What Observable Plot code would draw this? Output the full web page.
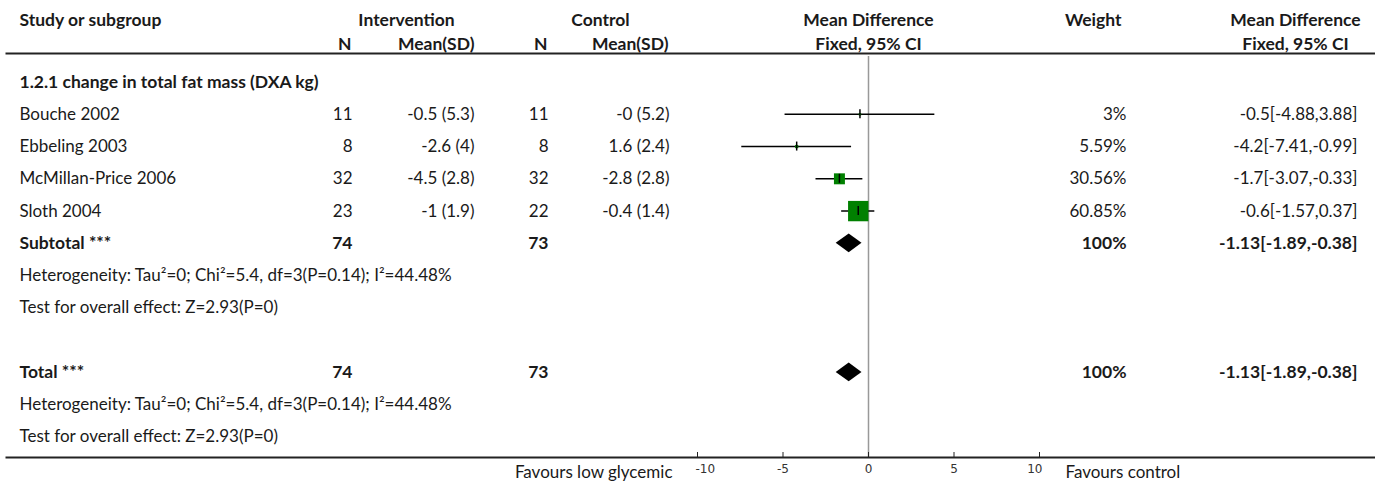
<!DOCTYPE html>
<html><head><meta charset="utf-8">
<script src="https://cdn.jsdelivr.net/npm/d3@7"></script>
<script src="https://cdn.jsdelivr.net/npm/@observablehq/plot@0.6"></script>
<style>body{margin:0;background:#fff} svg{display:block}</style>
</head><body><div id="chart"></div>
<script>
// ---- data ----
const groupTitle = "1.2.1 change in total fat mass (DXA kg)";
const studies = ["Bouche 2002", "Ebbeling 2003", "McMillan-Price 2006", "Sloth 2004"];
const intN = [11, 8, 32, 23];
const intMeanSD = ["-0.5 (5.3)", "-2.6 (4)", "-4.5 (2.8)", "-1 (1.9)"];
const ctlN = [11, 8, 32, 22];
const ctlMeanSD = ["-0 (5.2)", "1.6 (2.4)", "-2.8 (2.8)", "-0.4 (1.4)"];
const md = [-0.5, -4.2, -1.7, -0.6];
const ciLo = [-4.88, -7.41, -3.07, -1.57];
const ciHi = [3.88, -0.99, -0.33, 0.37];
const weights = [3, 5.59, 30.56, 60.85];
const weightLabels = ["3%", "5.59%", "30.56%", "60.85%"];
const pooledMD = -1.13, pooledLo = -1.89, pooledHi = -0.38;
const pooledN1 = 74, pooledN2 = 73;
const hetText = "Heterogeneity: Tau²=0; Chi²=5.4, df=3(P=0.14); I²=44.48%";
const testText = "Test for overall effect: Z=2.93(P=0)";
const axisTicks = [-10, -5, 0, 5, 10];
const leftLabel = "Favours low glycemic", rightLabel = "Favours control";
const headers1 = ["Study or subgroup", "Intervention", "Control", "Mean Difference", "Weight", "Mean Difference"];
const headers2 = ["N", "Mean(SD)", "N", "Mean(SD)", "Fixed, 95% CI", "Fixed, 95% CI"];

// ---- table rows ----
const rows = [];
rows.push({row: 0, label: groupTitle, bold: true});
studies.forEach((s, i) => rows.push({
  row: i + 1, label: s, n1: intN[i], m1: intMeanSD[i], n2: ctlN[i], m2: ctlMeanSD[i],
  w: weightLabels[i], eff: `${md[i]}[${ciLo[i]},${ciHi[i]}]`, bold: false
}));
const pooledEff = `${pooledMD}[${pooledLo},${pooledHi}]`;
rows.push({row: 5, label: "Subtotal ***", n1: pooledN1, n2: pooledN2, w: "100%", eff: pooledEff, bold: true});
rows.push({row: 6, label: hetText, bold: false});
rows.push({row: 7, label: testText, bold: false});
rows.push({row: 9, label: "Total ***", n1: pooledN1, n2: pooledN2, w: "100%", eff: pooledEff, bold: true});
rows.push({row: 10, label: hetText, bold: false});
rows.push({row: 11, label: testText, bold: false});

const studyRows = studies.map((s, i) => ({row: i + 1, md: md[i], lo: ciLo[i], hi: ciHi[i], w: weights[i]}));
const diamondRows = [5, 9];
const H = 0.29; // diamond half height in row units
const diamondPts = diamondRows.flatMap(r => [
  {key: r, y: r - H, x1: pooledMD, x2: pooledMD},
  {key: r, y: r, x1: pooledLo, x2: pooledHi},
  {key: r, y: r + H, x1: pooledMD, x2: pooledMD}
]);

const FONT = "Lato, 'Noto Sans', sans-serif";
const FS = 17, FSB = 17.5;
const L = 6, TOP = 53, BOTTOM = 32, W = 1375, HT = 489;
const INK = "#1a1a1a";

function col(field, dx, anchor) {
  return [false, true].map(b => Plot.text(rows.filter(d => d.bold === b && d[field] != null), {
    x: null, y: "row", frameAnchor: "left", text: field, dx, textAnchor: anchor,
    fontWeight: b ? "bold" : "normal", fontSize: b ? FSB : FS, fill: INK
  }));
}
function head(list, idx, dx, anchor, dy) {
  return Plot.text([list[idx]], {
    x: null, y: null, frameAnchor: "top-left", text: d => d, dx, dy, textAnchor: anchor,
    fontWeight: "bold", fontSize: FSB, fill: INK
  });
}
const innerTicks = axisTicks.slice(1, -1);
const tickFont = {fontFamily: "DejaVu Sans", fontSize: 12, fill: "#333"};

const chart = Plot.plot({
  width: W, height: HT,
  marginTop: TOP, marginBottom: BOTTOM, marginLeft: L, marginRight: 0,
  style: {fontFamily: FONT, fontSize: FS + "px", background: "white", color: INK},
  x: {domain: [-10, 10], range: [697, 1039], axis: null},
  y: {domain: [0, 11], range: [81.5, 436.5], axis: null},
  r: {type: "identity"},
  marks: [
    Plot.ruleX([0], {stroke: "#999", strokeWidth: 1.5, insetTop: 3}),
    Plot.frame({anchor: "top", stroke: "#222", strokeWidth: 2}),
    Plot.frame({anchor: "bottom", stroke: "#222", strokeWidth: 2}),
    Plot.ruleX(axisTicks, {x: d => d, insetTop: (HT - TOP - BOTTOM) - 5, stroke: "#222", strokeWidth: 1}),
    // tick labels
    Plot.text(innerTicks, {x: d => d, y: null, frameAnchor: "bottom", text: d => `${d}`, dy: 15, ...tickFont}),
    Plot.text([axisTicks[0]], {x: d => d, y: null, frameAnchor: "bottom", text: d => `${d}`, dy: 15, dx: -2,
      textAnchor: "start", ...tickFont}),
    Plot.text([axisTicks[axisTicks.length - 1]], {x: d => d, y: null, frameAnchor: "bottom", text: d => `${d}`, dy: 15, dx: 3,
      textAnchor: "end", ...tickFont}),
    Plot.text([leftLabel], {x: () => axisTicks[0], y: null, frameAnchor: "bottom", text: d => d,
      dx: -25, dy: 20, textAnchor: "end", fontSize: FS, fill: INK}),
    Plot.text([rightLabel], {x: () => axisTicks[axisTicks.length - 1], y: null, frameAnchor: "bottom", text: d => d,
      dx: 26, dy: 20, textAnchor: "start", fontSize: FS, fill: INK}),
    Plot.ruleY(studyRows, {x1: "lo", x2: "hi", y: "row", stroke: "#000", strokeWidth: 1.5}),
    Plot.dot(studyRows, {x: "md", y: "row", symbol: "square",
      r: d => (1.5 + 0.31 * d.w) / Math.sqrt(Math.PI), fill: "#008000", stroke: null}),
    Plot.ruleX(studyRows, {x: "md", y1: "row", y2: "row", insetTop: -4.5, insetBottom: -4.5, stroke: "#000", strokeWidth: 1.5}),
    Plot.areaX(diamondPts, {x1: "x1", x2: "x2", y: "y", z: "key", fill: "#000", curve: "linear"}),
    ...col("label", 13, "start"),
    ...col("n1", 346, "end"),
    ...col("m1", 468, "end"),
    ...col("n2", 542, "end"),
    ...col("m2", 663, "end"),
    ...col("w", 1120, "end"),
    ...col("eff", 1351, "end"),
    head(headers1, 0, 13, "start", -40),
    head(headers1, 1, 400, "middle", -40),
    head(headers1, 2, 594, "middle", -40),
    head(headers1, 3, 862, "middle", -40),
    head(headers1, 4, 1115, "end", -40),
    head(headers1, 5, 1289, "middle", -40),
    head(headers2, 0, 345, "end", -16),
    head(headers2, 1, 468, "end", -16),
    head(headers2, 2, 541, "end", -16),
    head(headers2, 3, 662, "end", -16),
    head(headers2, 4, 862, "middle", -16),
    head(headers2, 5, 1289, "middle", -16)
  ]
});
document.getElementById("chart").append(chart);
</script>
</body></html>
